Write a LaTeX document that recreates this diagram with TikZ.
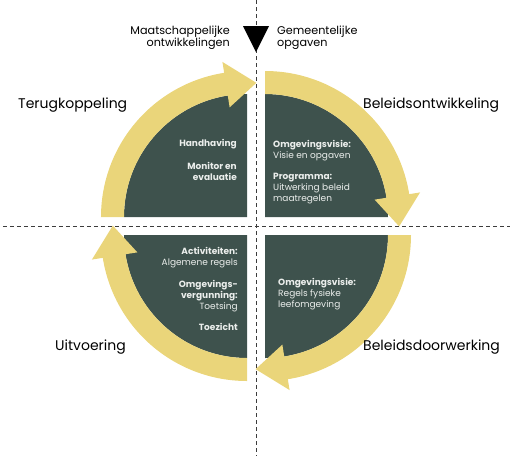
\documentclass[tikz,border=0pt]{standalone}
\usepackage{fontspec}
\setmainfont{Poppins}
\usepackage{xcolor}
\usetikzlibrary{calc}

\definecolor{cyclegreen}{RGB}{62,82,77}
\definecolor{cycleyellow}{RGB}{234,213,122}
\definecolor{gridgray}{RGB}{60,60,60}
\definecolor{lighttext}{RGB}{235,238,236}

\begin{document}
\begin{tikzpicture}[x=1pt,y=1pt,
	quad/.style={fill=cyclegreen},
	band/.style={fill=cycleyellow},
	axis/.style={gridgray,line width=0.8pt,dash pattern=on 4pt off 3pt},
	phase/.style={font=\fontsize{14}{16}\selectfont,text=black,inner sep=0pt},
	topic/.style={font=\fontsize{11.2}{12}\selectfont,text=black,inner sep=0pt,align=#1},
	inner/.style={font=\fontsize{9}{11}\selectfont,text=lighttext,inner sep=0pt,align=#1}]
	\useasboundingbox (-256,-230) rectangle (255,226);
	
	% dashed axes
	\coordinate (L) at (-253,0);
	\coordinate (R) at (254,0);
	\coordinate (T) at (0,226);
	\coordinate (B) at (0,-230);
	\draw[axis] (L)--(R);
	\draw[axis] (T)--(B);
	
	% quarter discs with arrows
	\foreach \rot in {0,-90,-180,-270}{
		\begin{scope}[rotate=\rot,shift={(-9,9)}]
			\fill[quad] (0,0) -- (180:123) arc[start angle=180,end angle=90,radius=123] -- cycle;
			\fill[band] (180:123) arc[start angle=180,end angle=99,radius=123]
				-- (99:111) -- (86:134.5) -- (99:157) -- (99:146)
				arc[start angle=99,end angle=180,radius=146] -- cycle;
		\end{scope}
	}
	
	% input triangle
	\coordinate (t1) at (-13,200);
	\coordinate (t2) at (13,200);
	\coordinate (t3) at (0,174);
	\fill[black] (t1)--(t2)--(t3)--cycle;
	
	\node[topic=right,anchor=east] (maat) at (-26,188) {Maatschappelijke\\ontwikkelingen};
	\node[topic=left,anchor=west] (gem) at (21,188) {Gemeentelijke\\opgaven};
	
	\node[phase,anchor=west] (terug) at (-238,121) {Terugkoppeling};
	\node[phase,anchor=west] (ontw) at (107,121) {Beleidsontwikkeling};
	\node[phase,anchor=west] (uitv) at (-201,-121) {Uitvoering};
	\node[phase,anchor=west] (doorw) at (107,-121) {Beleidsdoorwerking};
	
	\node[inner=right,anchor=north east] (tl) at (-19,87) {\textbf{Handhaving}\\[12pt]\textbf{Monitor en}\\\textbf{evaluatie}};
	\node[inner=left,anchor=north west] (tr) at (17,86) {\textbf{Omgevingsvisie:}\\Visie en opgaven\\[10pt]\textbf{Programma:}\\Uitwerking beleid\\maatregelen};
	\node[inner=right,anchor=north east] (bl) at (-18,-21) {\textbf{Activiteiten:}\\Algemene regels\\[11pt]\textbf{Omgevings-}\\\textbf{vergunning:}\\Toetsing\\[10pt]\textbf{Toezicht}};
	\node[inner=left,anchor=north west] (br) at (22,-52) {\textbf{Omgevingsvisie:}\\Regels fysieke\\leefomgeving};
\end{tikzpicture}
\end{document}
